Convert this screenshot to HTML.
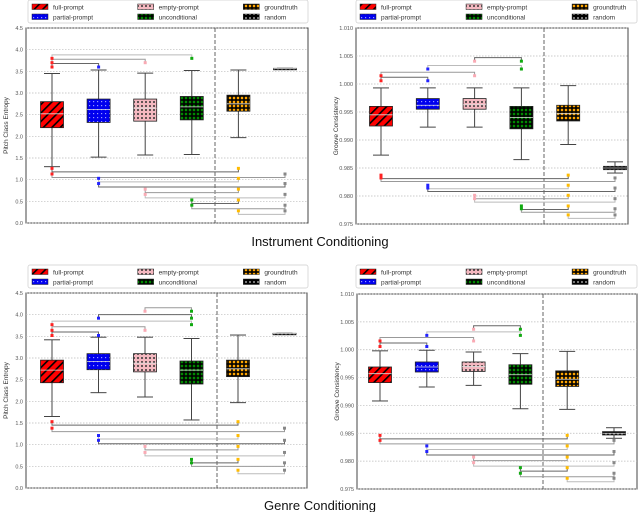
<!DOCTYPE html>
<html><head><meta charset="utf-8">
<style>
body{margin:0;background:#fff;width:640px;height:512px;overflow:hidden;font-family:"Liberation Sans","DejaVu Sans",sans-serif}
svg{position:absolute;left:0;top:0}
</style></head>
<body>
<svg id="fig" width="640" height="512" viewBox="0 0 640 512" xmlns="http://www.w3.org/2000/svg">
<defs>
<pattern id="p0" width="6" height="6" patternUnits="userSpaceOnUse" patternTransform="rotate(45)"><rect width="6" height="6" fill="#f00"/><rect width="1.6" height="6" fill="#000"/></pattern>
<pattern id="p1" width="4" height="4" patternUnits="userSpaceOnUse"><rect width="4" height="4" fill="#0000ee"/><rect x="1" y="1" width="1.2" height="1.2" fill="#99f"/></pattern>
<pattern id="p2" width="4" height="4" patternUnits="userSpaceOnUse"><rect width="4" height="4" fill="#f4b8c0"/><circle cx="2" cy="2" r="1" fill="#333"/></pattern>
<pattern id="p3" width="4" height="4" patternUnits="userSpaceOnUse"><rect width="4" height="4" fill="#000"/><rect x="0.8" y="0.8" width="2.4" height="2.4" fill="#080"/></pattern>
<pattern id="p4" width="4" height="4" patternUnits="userSpaceOnUse"><rect width="4" height="4" fill="#000"/><rect x="0.8" y="0.8" width="2.4" height="2.4" fill="#ffa500"/></pattern>
<pattern id="p5" width="4" height="4" patternUnits="userSpaceOnUse"><rect width="4" height="4" fill="#000"/><rect x="1" y="1" width="2" height="2" fill="#777"/></pattern>
</defs>
<text x="320" y="246" font-size="13" text-anchor="middle" fill="#111">Instrument Conditioning</text>
<text x="320" y="510" font-size="13" text-anchor="middle" fill="#111">Genre Conditioning</text>
</svg>
<script>
// ---- data ----
const names = ["full-prompt","partial-prompt","empty-prompt","unconditional","groundtruth","random"];
const legendOrder = [0,1,2,3,4,5];
const tlBoxes = [[1.3,2.2,2.52,2.8,3.45],[1.52,2.32,2.62,2.86,3.53],[1.57,2.35,2.65,2.86,3.46],[1.58,2.38,2.68,2.92,3.52],[1.97,2.58,2.75,2.95,3.53],[3.57,3.57,3.57,3.57,3.57]];
const tlTop = [[0,1,3.68],[0,2,3.78],[0,3,3.88]];
const tlBot = [[0,4,1.18],[0,5,1.05],[1,4,0.95],[1,5,0.83],[2,4,0.70],[2,5,0.58],[3,4,0.45],[3,5,0.33],[4,5,0.20]];
const pceTicks = [0,0.5,1,1.5,2,2.5,3,3.5,4,4.5];
const trBoxes = [[0.9873,0.9925,0.9945,0.9960,0.9993],[0.9923,0.9955,0.9962,0.9974,0.9993],[0.9923,0.9955,0.9963,0.9974,0.9993],[0.9865,0.9920,0.9940,0.9960,0.9993],[0.9892,0.9934,0.9947,0.9962,0.9997],[0.9841,0.9847,0.9850,0.9853,0.9861]];
const trTop = [[0,1,1.0012],[0,2,1.0021],[1,3,1.0033],[2,3,1.0047]];
const trBot = [[0,4,0.9831],[0,5,0.9826],[1,4,0.9813],[1,5,0.9808],[2,4,0.9795],[2,5,0.9789],[3,4,0.9776],[3,5,0.9771],[4,5,0.9760]];
const gcTicks = [0.975,0.980,0.985,0.990,0.995,1.000,1.005,1.010];
const blBoxes = [[1.65,2.43,2.72,2.95,3.42],[2.2,2.73,2.92,3.1,3.48],[2.1,2.68,2.88,3.1,3.48],[1.57,2.4,2.72,2.93,3.45],[1.97,2.57,2.75,2.95,3.53],[3.57,3.57,3.57,3.57,3.57]];
const blTop = [[0,1,3.6],[0,2,3.72],[0,3,3.85],[1,3,4.0],[2,3,4.16]];
const blBot = [[0,4,1.45],[0,5,1.30],[1,4,1.13],[1,5,1.02],[2,4,0.88],[2,5,0.74],[3,4,0.58],[3,5,0.50],[4,5,0.33]];
const brBoxes = [[0.9908,0.9941,0.9957,0.9969,0.9998],[0.9933,0.9960,0.9969,0.9978,0.9999],[0.9936,0.9961,0.9970,0.9978,0.9996],[0.9894,0.9938,0.9955,0.9973,0.9993],[0.9893,0.9934,0.9947,0.9962,0.9997],[0.9841,0.9847,0.9850,0.9853,0.9860]];
const brTop = [[0,1,1.0012],[0,2,1.0022],[1,3,1.0032],[2,3,1.0043]];
const brBot = [[0,4,0.9840],[0,5,0.9831],[1,4,0.9821],[1,5,0.9811],[2,4,0.9801],[2,5,0.9791],[3,4,0.9782],[3,5,0.9772],[4,5,0.9763]];

const dotCol = ["#f22","#22f","#f9aab4","#1a1","#fb0","#888"];
const fig = document.getElementById('fig');
const NS = "http://www.w3.org/2000/svg";
function mk(tag, attrs, parent){const e=document.createElementNS(NS,tag);for(const k in attrs)e.setAttribute(k,attrs[k]);(parent||fig).appendChild(e);return e;}

function panel(p){
  const g = mk('g',{});
  
  
  const y = v => p.b - (v - p.min)/(p.max - p.min)*(p.b - p.t);
  const x = i => p.c0 + i*p.step;
  mk('rect',{x:p.l,y:p.t,width:p.r-p.l,height:p.b-p.t,fill:'#fff',stroke:'#444','stroke-width':1},g);
  p.ticks.forEach(t=>{
    const gl = mk('line',{x1:p.l,x2:p.r,y1:y(t),y2:y(t),stroke:'#bbb','stroke-width':0.7,'stroke-dasharray':'1.5,1.5'},g);
    
    
    const tx = mk('text',{x:p.l-3,y:y(t)+2,'font-size':5.5,'text-anchor':'end',fill:'#555'},g);
    tx.textContent = p.fmt(t);
    
    
  });
  const yl = mk('text',{x:0,y:0,'font-size':6.5,'text-anchor':'middle',fill:'#333',transform:`translate(${p.l-18},${(p.t+p.b)/2}) rotate(-90)`},g);
  yl.textContent = p.ylabel;
  
  
  mk('line',{x1:p.div,x2:p.div,y1:p.t,y2:p.b,stroke:'#555','stroke-width':0.9,'stroke-dasharray':'4,2'},g);
  p.boxes.forEach((bx,i)=>{
    const cx = x(i), w = 23;
    const bg = mk('g',{},g);
    
    
    mk('line',{x1:cx,x2:cx,y1:y(bx[0]),y2:y(bx[4]),stroke:'#444','stroke-width':1},bg);
    mk('line',{x1:cx-8,x2:cx+8,y1:y(bx[0]),y2:y(bx[0]),stroke:'#444','stroke-width':1},bg);
    mk('line',{x1:cx-8,x2:cx+8,y1:y(bx[4]),y2:y(bx[4]),stroke:'#444','stroke-width':1},bg);
    const h = Math.max(y(bx[1])-y(bx[3]),1.5);
    mk('rect',{x:cx-w/2,y:y(bx[3]),width:w,height:h,fill:'url(#p'+i+')',stroke:'#222','stroke-width':0.8},bg);
    mk('line',{x1:cx-w/2,x2:cx+w/2,y1:y(bx[2]),y2:y(bx[2]),stroke:'#ddd','stroke-width':0.8},bg);
  });
  const shades=['#666','#999','#bbb'];
  function br(list, dir, name){
    list.forEach((s,k)=>{
      const yy = y(s[2]), x1=x(s[0]), x2=x(s[1]);
      const bg = mk('g',{},g);
      
      
      const c = shades[k%3];
      mk('polyline',{points:`${x1},${yy+dir*3} ${x1},${yy} ${x2},${yy} ${x2},${yy+dir*3}`,fill:'none',stroke:c,'stroke-width':1},bg);
      mk('rect',{x:x1-1.5,y:yy+dir*3.5-1.5,width:3,height:3,fill:dotCol[s[0]]},bg);
      mk('rect',{x:x2-1.5,y:yy+dir*3.5-1.5,width:3,height:3,fill:dotCol[s[1]]},bg);
    });
  }
  br(p.top, 1, 'significance-bracket-top');
  br(p.bot, -1, 'significance-bracket-bottom');
  // legend
  const lg = mk('g',{},g);
  
  
  mk('rect',{x:p.lx,y:p.ly,width:p.lw,height:23,rx:2,fill:'#fff',stroke:'#ccc','stroke-width':0.7,'fill-opacity':0.9},lg);
  legendOrder.forEach((i,k)=>{
    const col = Math.floor(k/2), row = k%2;
    const sx = p.lx+4+col*p.lw/2.65, sy = p.ly+4+row*10;
    const e = mk('g',{},lg);
    
    
    mk('rect',{x:sx,y:sy,width:16,height:5.5,fill:'url(#p'+i+')',stroke:'#222','stroke-width':0.5},e);
    const t = mk('text',{x:sx+21,y:sy+5.5,'font-size':6.5,fill:'#333'},e);
    t.textContent = names[i];
  });
}
const f1 = v=>v.toFixed(1), f3 = v=>v.toFixed(3);
panel({id:'panel-instrument-pitch-entropy',l:26,r:308,t:28,b:223,min:0,max:4.5,c0:52,step:46.6,div:215,ticks:pceTicks,fmt:f1,ylabel:'Pitch Class Entropy',boxes:tlBoxes,top:tlTop,bot:tlBot,lx:28,ly:0,lw:280});
panel({id:'panel-instrument-groove',l:356,r:628,t:28,b:224,min:0.975,max:1.010,c0:381,step:46.8,div:544,ticks:gcTicks,fmt:f3,ylabel:'Groove Consistency',boxes:trBoxes,top:trTop,bot:trBot,lx:356,ly:0,lw:281});
panel({id:'panel-genre-pitch-entropy',l:26,r:307,t:293,b:488,min:0,max:4.5,c0:52,step:46.5,div:217,ticks:pceTicks,fmt:f1,ylabel:'Pitch Class Entropy',boxes:blBoxes,top:blTop,bot:blBot,lx:28,ly:265,lw:280});
panel({id:'panel-genre-groove',l:357,r:637,t:294,b:489,min:0.975,max:1.010,c0:380,step:46.8,div:543,ticks:gcTicks,fmt:f3,ylabel:'Groove Consistency',boxes:brBoxes,top:brTop,bot:brBot,lx:356,ly:265,lw:281});
</script>
</body></html>
